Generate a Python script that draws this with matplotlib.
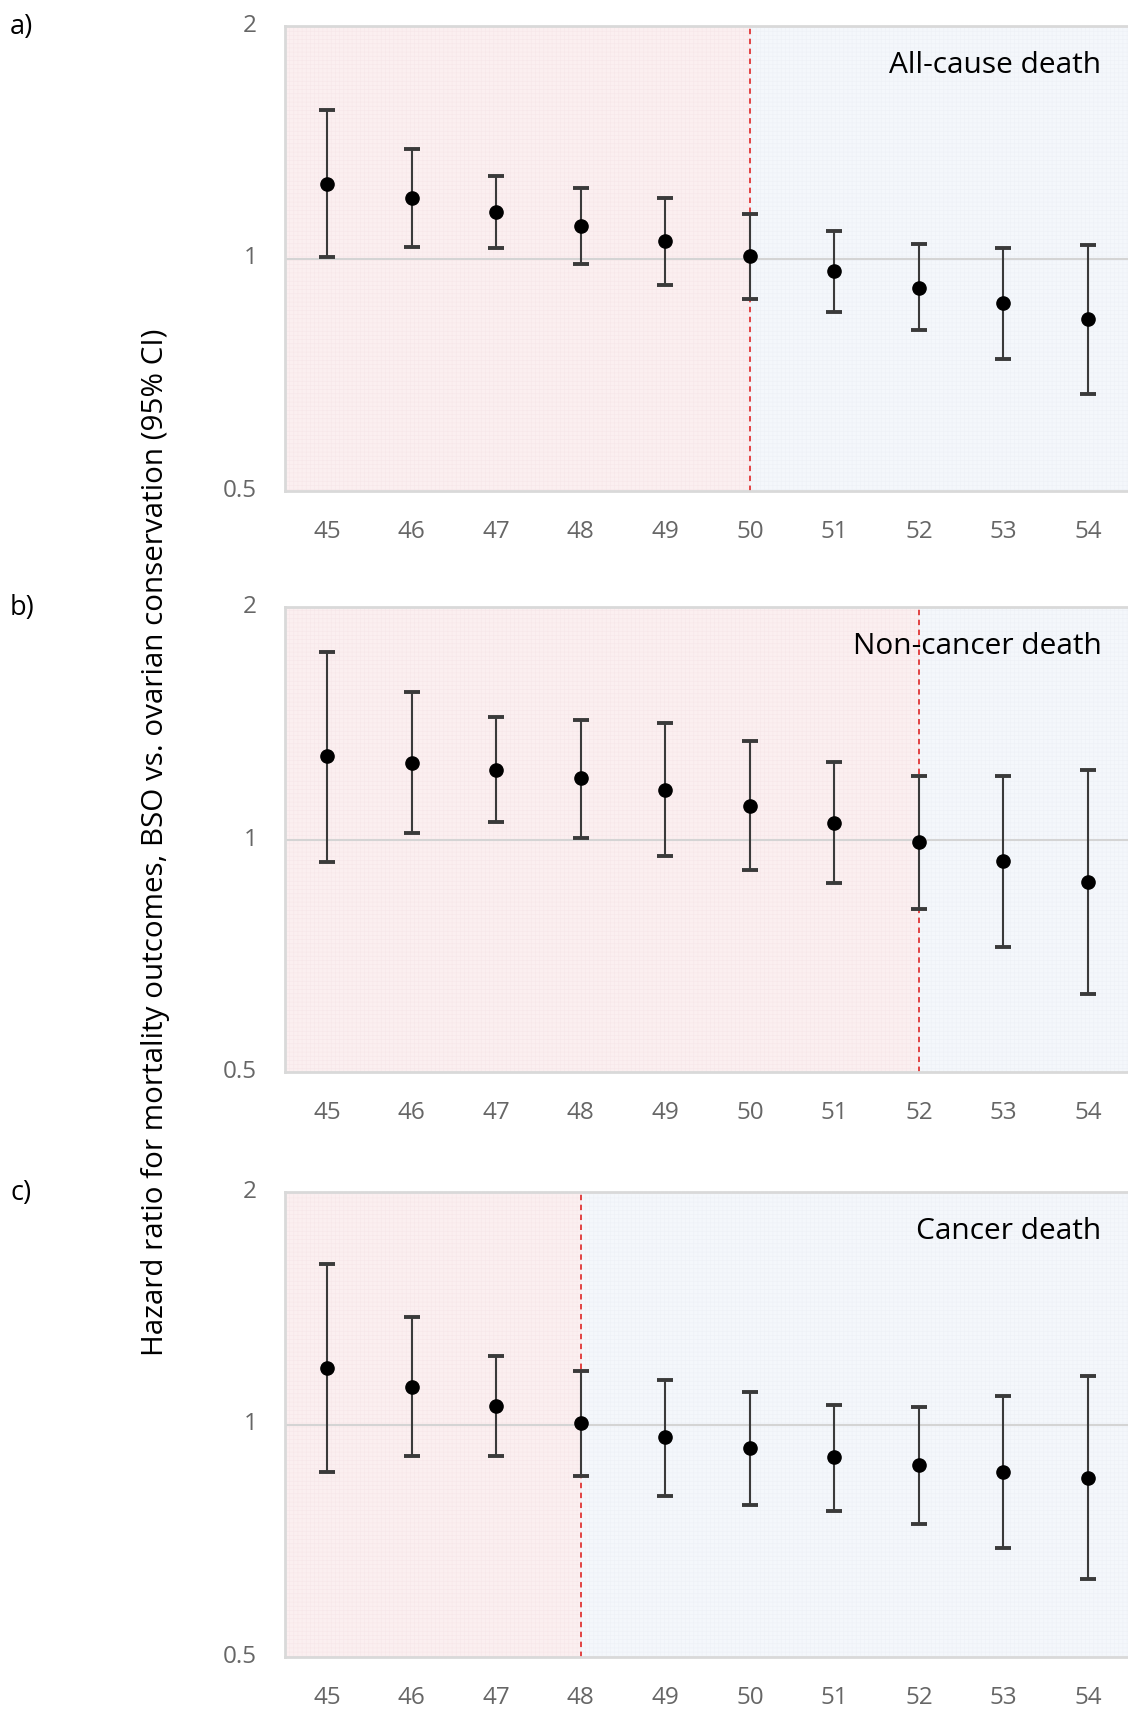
import numpy as np
import matplotlib
matplotlib.use('agg')
from matplotlib import pyplot as plt
from matplotlib.ticker import FixedLocator, NullLocator

plt.rcParams['font.family'] = ['Open Sans', 'DejaVu Sans']
plt.rcParams['hatch.linewidth'] = 0.4

ages = [45, 46, 47, 48, 49, 50, 51, 52, 53, 54]

# all-cause death
hr_all = [1.247, 1.199, 1.150, 1.102, 1.053, 1.006, 0.962, 0.916, 0.875, 0.834]
lo_all = [1.003, 1.036, 1.033, 0.984, 0.925, 0.887, 0.853, 0.807, 0.742, 0.668]
hi_all = [1.555, 1.384, 1.280, 1.235, 1.199, 1.142, 1.085, 1.043, 1.033, 1.040]

# non-cancer death
hr_nc = [1.281, 1.256, 1.231, 1.200, 1.158, 1.106, 1.050, 0.993, 0.937, 0.881]
lo_nc = [0.934, 1.020, 1.053, 1.003, 0.952, 0.913, 0.878, 0.812, 0.725, 0.630]
hi_nc = [1.750, 1.552, 1.440, 1.430, 1.416, 1.340, 1.260, 1.208, 1.208, 1.231]

# cancer death
hr_c = [1.184, 1.117, 1.057, 1.003, 0.962, 0.931, 0.907, 0.886, 0.869, 0.853]
lo_c = [0.869, 0.910, 0.910, 0.858, 0.809, 0.786, 0.773, 0.744, 0.692, 0.630]
hi_c = [1.613, 1.376, 1.228, 1.173, 1.143, 1.103, 1.060, 1.053, 1.088, 1.154]

panels = [
    ('a)', 'All-cause death', hr_all, lo_all, hi_all, 50),
    ('b)', 'Non-cancer death', hr_nc, lo_nc, hi_nc, 52),
    ('c)', 'Cancer death', hr_c, lo_c, hi_c, 48),
]

fig = plt.figure(figsize=(11.28, 17.12), dpi=100)

left = 285 / 1128
width = 1 - left + 0.002
tops = [26, 607, 1192]
h = 465 / 1712

for (tag, title, hr, lo, hi, split), top in zip(panels, tops):
    bottom = 1 - top / 1712 - h
    ax = fig.add_axes([left, bottom, width, h])
    ax.set_yscale('log')
    ax.set_xlim(44.5, 54.5)
    ax.set_ylim(0.5, 2)

    # shaded regions
    ax.axvspan(44.5, split, color='#fbeff0', zorder=0, lw=0)
    ax.axvspan(44.5, split, facecolor='none', edgecolor='#f7e7e9',
               hatch='++++', lw=0, zorder=0.1)
    ax.axvspan(split, 54.5, color='#f4f7fb', zorder=0, lw=0)
    ax.axvspan(split, 54.5, facecolor='none', edgecolor='#eef1f6',
               hatch='++++', lw=0, zorder=0.1)
    ax.axhline(1, color='#d4d4d4', lw=1.5, zorder=1)
    ax.axvline(split, color='#e03535', lw=1.3, ls=(0, (3, 2.5)), zorder=2)

    hr = np.array(hr)
    yerr = [hr - np.array(lo), np.array(hi) - hr]
    _, caps, bars = ax.errorbar(ages, hr, yerr=yerr, fmt='o', color='black',
                                ecolor='#3a3a3a', elinewidth=1.5, capsize=5.5,
                                capthick=2.8, markersize=9.5, zorder=3)
    for c in caps:
        c.set_color('black')

    ax.yaxis.set_major_locator(FixedLocator([0.5, 1, 2]))
    ax.yaxis.set_minor_locator(NullLocator())
    ax.set_yticklabels(['0.5', '1', '2'])
    ax.set_xticks(ages)
    ax.tick_params(axis='both', length=0, labelsize=17.5, labelcolor='#666666')
    ax.tick_params(axis='x', pad=21)
    ax.tick_params(axis='y', pad=20)
    for lab in ax.get_yticklabels():
        lab.set_verticalalignment('center')

    for s in ax.spines.values():
        s.set_color('#d9d9d9')
        s.set_linewidth(2)

    ax.text(0.966, 0.915, title, transform=ax.transAxes, ha='right',
            va='center', fontsize=21.5, color='black')
    fig.text(10 / 1128, 1 - (top + 1) / 1712, tag, ha='left', va='center',
             fontsize=19.5)

fig.text(156 / 1128, 1 - 842 / 1712,
         'Hazard ratio for mortality outcomes, BSO vs. ovarian conservation (95% CI)',
         rotation=90, ha='center', va='center', fontsize=21.3)

fig.savefig('out.png', dpi=100)
